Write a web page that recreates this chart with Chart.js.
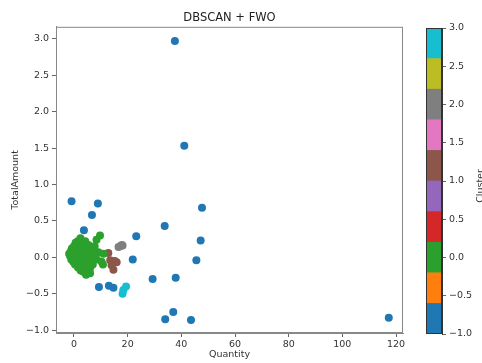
<!DOCTYPE html>
<html>
<head>
<meta charset="utf-8">
<script src="https://cdn.jsdelivr.net/npm/chart.js@4/dist/chart.umd.min.js"></script>
<style>
  body { margin: 0; background: #fff; }
  #wrap { position: relative; width: 482px; height: 363px; overflow: hidden; }
  #main { position: absolute; left: 0; top: 0; }
  #cbar { position: absolute; left: 415px; top: 0; }
</style>
</head>
<body>
<div id="wrap">
  <canvas id="main" width="415" height="363"></canvas>
  <canvas id="cbar" width="67" height="363"></canvas>
</div>
<script>
// points per cluster, [Quantity, TotalAmount]
const noisePts = [
  [37.6, 2.97], [41.1, 1.53], [-0.9, 0.77], [8.9, 0.74], [6.7, 0.58],
  [47.7, 0.68], [3.7, 0.37], [33.8, 0.43], [23.2, 0.29], [47.2, 0.23],
  [21.9, -0.03], [45.6, -0.04], [29.3, -0.30], [37.9, -0.28], [9.3, -0.41],
  [13.0, -0.39], [14.7, -0.42], [34.0, -0.85], [37.0, -0.75], [43.6, -0.86],
  [117.3, -0.83]
];
const cluster0Pts = [
  [-1.8, 0.05], [-1.5, 0.02], [-1.2, 0.08], [-1.0, -0.03], [-0.8, 0.12],
  [-0.5, 0.05], [-0.3, -0.06], [0.0, 0.15], [0.0, 0.0], [0.2, 0.09],
  [0.4, -0.10], [0.6, 0.20], [0.8, 0.03], [1.0, -0.05], [1.2, 0.12],
  [1.4, 0.22], [1.5, -0.14], [1.8, 0.06], [2.0, 0.18], [2.2, -0.02],
  [2.4, 0.26], [2.5, -0.18], [2.8, 0.10], [3.0, 0.02], [3.0, -0.10],
  [3.2, 0.20], [3.5, -0.20], [3.6, 0.14], [3.8, -0.05], [4.0, 0.06],
  [4.2, 0.22], [4.4, -0.14], [4.5, -0.24], [4.8, 0.10], [5.0, 0.0],
  [5.2, -0.20], [5.4, 0.17], [5.6, -0.08], [5.8, 0.05], [6.0, -0.15],
  [6.2, 0.12], [6.4, -0.03], [6.8, 0.08], [7.0, -0.10], [7.2, 0.02],
  [3.5, 0.10], [2.0, -0.08], [1.0, 0.17], [4.6, -0.03], [6.0, -0.22],
  [5.0, -0.12], [2.6, 0.04], [8.4, 0.24], [9.7, 0.30], [9.1, 0.07],
  [11.0, 0.05], [10.3, -0.06], [10.8, -0.10], [8.0, 0.05], [8.5, -0.03],
  [7.7, 0.15]
];
const cluster1Pts = [
  [12.8, 0.06], [13.5, -0.04], [15.9, -0.07], [14.7, -0.17], [14.0, -0.11], [15.2, -0.05]
];
const cluster2Pts = [
  [16.6, 0.14], [17.2, 0.15], [17.8, 0.17], [18.1, 0.16]
];
const cluster3Pts = [
  [19.4, -0.40], [18.4, -0.45], [18.1, -0.50]
];

const xTicks = [0, 20, 40, 60, 80, 100, 120];
const yTicks = [-1.0, -0.5, 0.0, 0.5, 1.0, 1.5, 2.0, 2.5, 3.0];
const cbTicks = [-1.0, -0.5, 0.0, 0.5, 1.0, 1.5, 2.0, 2.5, 3.0];
const cbBounds = [-1.0, -0.6, -0.2, 0.2, 0.6, 1.0, 1.4, 1.8, 2.2, 2.6, 3.0];
const tab10 = ['#1f77b4', '#ff7f0e', '#2ca02c', '#d62728', '#9467bd',
               '#8c564b', '#e377c2', '#7f7f7f', '#bcbd22', '#17becf'];

const font = { family: 'DejaVu Sans', size: 9.5 };
const fmt = v => (v < 0 ? '\u2212' : '') + Math.abs(v).toFixed(1);

const frame = {
  id: 'frame',
  afterDraw(c) {
    const a = c.chartArea, ctx = c.ctx;
    ctx.save();
    ctx.strokeStyle = c.config.options.frameColor || '#777';
    ctx.lineWidth = 1;
    ctx.strokeRect(a.left + 0.5, a.top + 0.5, a.width - 1, a.height - 1);
    ctx.restore();
  }
};

function pts(list) { return list.map(p => ({ x: p[0], y: p[1] })); }

new Chart(document.getElementById('main'), {
  type: 'scatter',
  data: {
    datasets: [
      { data: pts(noisePts), backgroundColor: tab10[0] },
      { data: pts(cluster0Pts), backgroundColor: tab10[2] },
      { data: pts(cluster1Pts), backgroundColor: tab10[5] },
      { data: pts(cluster2Pts), backgroundColor: tab10[7] },
      { data: pts(cluster3Pts), backgroundColor: tab10[9] }
    ]
  },
  options: {
    responsive: false,
    animation: false,
    devicePixelRatio: 1,
    frameColor: '#888',
    layout: { padding: { left: 0, right: 12, top: 0, bottom: 0 } },
    elements: { point: { radius: 4, borderWidth: 0, hoverRadius: 4 } },
    plugins: {
      legend: { display: false },
      tooltip: { enabled: false },
      title: {
        display: true,
        text: 'DBSCAN + FWO',
        fullSize: false,
        color: '#222',
        font: { family: 'DejaVu Sans', size: 11.5, weight: 'normal' },
        padding: { top: 11, bottom: 2 }
      }
    },
    scales: {
      x: {
        type: 'linear',
        min: -6.7,
        max: 122.6,
        afterBuildTicks: s => { s.ticks = xTicks.map(v => ({ value: v })); },
        afterFit: s => { s.height = 30; },
        ticks: { color: '#333', font, padding: 2, maxRotation: 0, callback: v => String(v) },
        grid: { drawOnChartArea: false, tickLength: 4, color: '#666' },
        border: { color: '#888' },
        title: { display: true, text: 'Quantity', color: '#333', font, padding: { top: 0, bottom: 3 } }
      },
      y: {
        type: 'linear',
        min: -1.04,
        max: 3.165,
        afterBuildTicks: s => { s.ticks = yTicks.map(v => ({ value: v })); },
        afterFit: s => { s.width = 56; },
        ticks: { color: '#333', font, padding: 3, callback: fmt },
        grid: { drawOnChartArea: false, tickLength: 4, color: '#666' },
        border: { color: '#888' },
        title: { display: true, text: 'TotalAmount', color: '#333', font, padding: { top: 10, bottom: 0 } }
      }
    }
  },
  plugins: [frame]
});

const cbLabel = {
  id: 'cbLabel',
  afterDraw(c) {
    const ctx = c.ctx;
    ctx.save();
    ctx.translate(66, 186);
    ctx.rotate(-Math.PI / 2);
    ctx.font = '9.5px "DejaVu Sans"';
    ctx.fillStyle = '#333';
    ctx.textAlign = 'center';
    ctx.textBaseline = 'middle';
    ctx.fillText('Cluster', 0, 0);
    ctx.restore();
  }
};

new Chart(document.getElementById('cbar'), {
  type: 'bar',
  data: {
    labels: [''],
    datasets: tab10.map((c, i) => ({
      data: [[cbBounds[i], cbBounds[i + 1]]],
      backgroundColor: c,
      borderWidth: 0
    }))
  },
  options: {
    responsive: false,
    animation: false,
    devicePixelRatio: 1,
    frameColor: '#333',
    grouped: false,
    barPercentage: 1,
    categoryPercentage: 1,
    layout: { padding: { left: 11, right: 0, top: 28, bottom: 29 } },
    plugins: { legend: { display: false }, tooltip: { enabled: false } },
    scales: {
      x: { display: false },
      y: {
        position: 'right',
        min: -1,
        max: 3,
        afterBuildTicks: s => { s.ticks = cbTicks.map(v => ({ value: v })); },
        afterFit: s => { s.width = 40; },
        ticks: { color: '#333', font, padding: 3, callback: fmt },
        grid: { drawOnChartArea: false, tickLength: 4, color: '#666' },
        border: { color: '#333' }
      }
    }
  },
  plugins: [frame, cbLabel]
});
</script>
</body>
</html>
